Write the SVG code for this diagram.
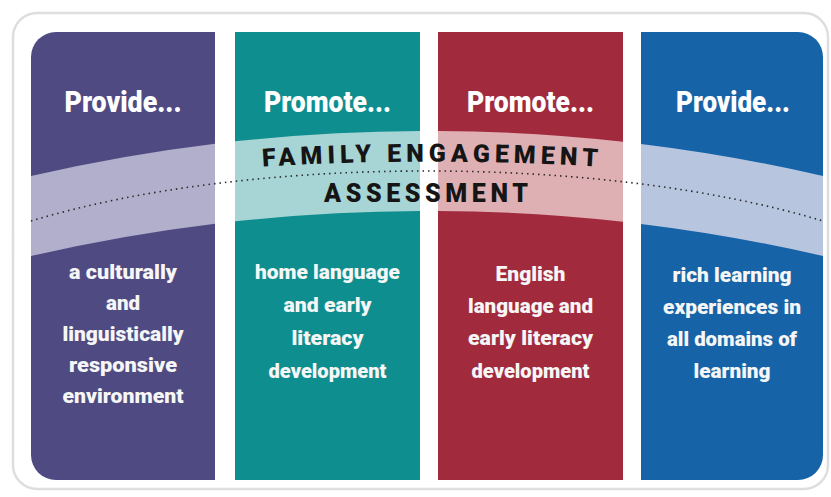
<svg xmlns="http://www.w3.org/2000/svg" width="831" height="497" viewBox="0 0 831 497">
  <style>
    .head { font-family: Roboto, "Liberation Sans", sans-serif; font-weight: 900; font-size: 30px; fill: #ffffff; text-anchor: middle; }
    .body { font-family: Roboto, "Liberation Sans", sans-serif; font-weight: 900; font-size: 20.5px; fill: #f6f6f6; text-anchor: middle; }
    .band-text { font-family: Roboto, "Liberation Sans", sans-serif; font-weight: 900; font-size: 25px; fill: #151515; }
    .dots { fill: none; stroke: #2a2a2a; stroke-width: 1.6; stroke-dasharray: 1.5 4; }
  </style>
  <defs>
    <path id="bandShape" d="M 20 178.5 A 1765 1765 0 0 1 834 178.5 L 834 258.5 A 1765 1765 0 0 0 20 258.5 Z"/>
    <clipPath id="c1"><rect x="31" y="32" width="184" height="448"/></clipPath>
    <clipPath id="c2"><rect x="235" y="32" width="185" height="448"/></clipPath>
    <clipPath id="c3"><rect x="438" y="32" width="185" height="448"/></clipPath>
    <clipPath id="c4"><rect x="641" y="32" width="182" height="448"/></clipPath>
    <path id="famArc" d="M 200 171 A 2822 2822 0 0 1 660 171"/>
  </defs>

  <rect id="frame" x="13" y="13" width="815" height="476" rx="24" fill="#ffffff" stroke="#dedede" stroke-width="2.5"/>

  <g id="col1">
    <path d="M 56 32 H 215 V 480 H 56 A 25 25 0 0 1 31 455 V 57 A 25 25 0 0 1 56 32 Z" fill="#4f4b82"/>
    <use href="#bandShape" fill="#b2afcc" clip-path="url(#c1)"/>
    <text class="head" x="123" y="112" textLength="117" lengthAdjust="spacingAndGlyphs">Provide...</text>
    <text class="body" x="123" y="279" textLength="108" lengthAdjust="spacingAndGlyphs">a culturally</text>
    <text class="body" x="123" y="310">and</text>
    <text class="body" x="123" y="341" textLength="121" lengthAdjust="spacingAndGlyphs">linguistically</text>
    <text class="body" x="123" y="372" textLength="108" lengthAdjust="spacingAndGlyphs">responsive</text>
    <text class="body" x="123" y="403" textLength="121" lengthAdjust="spacingAndGlyphs">environment</text>
  </g>

  <g id="col2">
    <rect x="235" y="32" width="185" height="448" fill="#0e8e8e"/>
    <use href="#bandShape" fill="#a7d4d4" clip-path="url(#c2)"/>
    <text class="head" x="327.5" y="112" textLength="127" lengthAdjust="spacingAndGlyphs">Promote...</text>
    <text class="body" x="327.5" y="279" textLength="145" lengthAdjust="spacingAndGlyphs">home language</text>
    <text class="body" x="327.5" y="312" textLength="88" lengthAdjust="spacingAndGlyphs">and early</text>
    <text class="body" x="327.5" y="345" textLength="72" lengthAdjust="spacingAndGlyphs">literacy</text>
    <text class="body" x="327.5" y="378" textLength="118" lengthAdjust="spacingAndGlyphs">development</text>
  </g>

  <g id="col3">
    <rect x="438" y="32" width="185" height="448" fill="#a12a3d"/>
    <use href="#bandShape" fill="#dfb0b3" clip-path="url(#c3)"/>
    <text class="head" x="530.5" y="112" textLength="127" lengthAdjust="spacingAndGlyphs">Promote...</text>
    <text class="body" x="530.5" y="281" textLength="70" lengthAdjust="spacingAndGlyphs">English</text>
    <text class="body" x="530.5" y="313" textLength="125" lengthAdjust="spacingAndGlyphs">language and</text>
    <text class="body" x="530.5" y="345" textLength="125" lengthAdjust="spacingAndGlyphs">early literacy</text>
    <text class="body" x="530.5" y="378" textLength="118" lengthAdjust="spacingAndGlyphs">development</text>
  </g>

  <g id="col4">
    <path d="M 641 32 H 798 A 25 25 0 0 1 823 57 V 455 A 25 25 0 0 1 798 480 H 641 Z" fill="#1664a7"/>
    <use href="#bandShape" fill="#b8c5df" clip-path="url(#c4)"/>
    <text class="head" x="733" y="112" textLength="114" lengthAdjust="spacingAndGlyphs">Provide...</text>
    <text class="body" x="732" y="282" textLength="119" lengthAdjust="spacingAndGlyphs">rich learning</text>
    <text class="body" x="732" y="314" textLength="138" lengthAdjust="spacingAndGlyphs">experiences in</text>
    <text class="body" x="732" y="346" textLength="130" lengthAdjust="spacingAndGlyphs">all domains of</text>
    <text class="body" x="732" y="378" textLength="77" lengthAdjust="spacingAndGlyphs">learning</text>
  </g>

  <g id="connectors">
    <path class="dots" d="M 31 221 C 251 154.3 603 154.3 823 221"/>
  </g>

  <g id="band-labels">
    <text class="band-text" textLength="335" lengthAdjust="spacing"><textPath href="#famArc" startOffset="50%" text-anchor="middle">FAMILY ENGAGEMENT</textPath></text>
    <text class="band-text" x="426" y="202" text-anchor="middle" textLength="204" lengthAdjust="spacing">ASSESSMENT</text>
  </g>
</svg>
